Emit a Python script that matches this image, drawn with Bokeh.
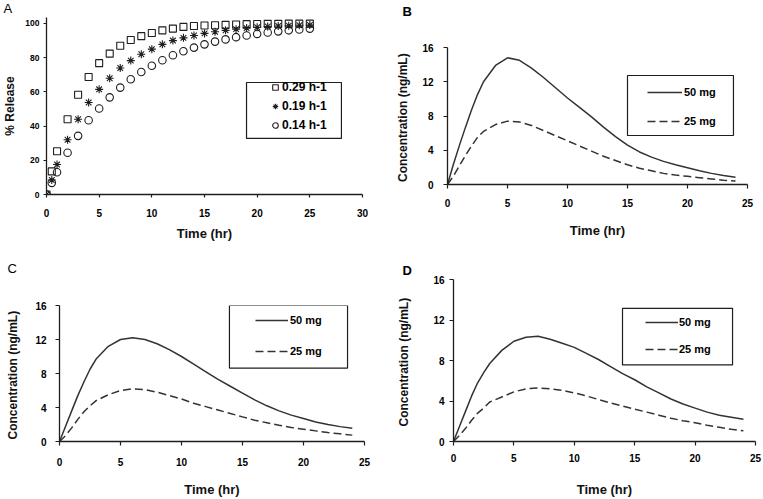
from bokeh.plotting import figure
from bokeh.layouts import column, row
from bokeh.models import Legend, LegendItem, BoxAnnotation, Range1d, FixedTicker, Title
from bokeh.embed import file_html
from bokeh.resources import INLINE

# ---------------- data ----------------
release_time = [0, 0.5, 1, 2, 3, 4, 5, 6, 7, 8, 9, 10, 11, 12, 13, 14, 15, 16, 17, 18, 19, 20, 21, 22, 23, 24, 25]
release_k029 = [0, 13.5, 25.3, 44, 58.3, 68.7, 76.8, 82.4, 87, 90.3, 92.6, 94.4, 96, 97, 98, 98.5, 98.8, 99,
                99.2, 99.4, 99.6, 99.7, 99.8, 99.8, 99.9, 99.9, 99.9]
release_k019 = [0, 8.5, 17.5, 32, 44, 53.8, 61.5, 68, 74, 78.3, 82, 85, 87.8, 90, 91.6, 93, 94.2, 95.2,
                96, 96.7, 97.3, 97.8, 98.2, 98.5, 98.7, 99, 99.1]
release_k014 = [0, 6.8, 13, 24.4, 34.3, 43.4, 50.3, 56.8, 62.5, 67.4, 71.6, 75.3, 78.5, 81.4, 83.8, 85.9,
                87.8, 89.4, 90.7, 92, 93, 93.9, 94.7, 95.4, 96, 96.5, 97]
release_labels = ["0.29 h-1", "0.19 h-1", "0.14 h-1"]

conc_time = [0, 0.5, 1, 1.5, 2, 2.5, 3, 4, 5, 6, 7, 8, 9, 10, 11, 12, 13, 14, 15, 16, 17, 18, 19, 20, 21, 22, 23, 24]
b_50mg = [0, 2.4, 4.6, 6.7, 8.7, 10.5, 12.0, 13.9, 14.8, 14.5, 13.6, 12.5, 11.3, 10.1, 9.0, 7.9, 6.7, 5.6,
          4.6, 3.8, 3.2, 2.7, 2.3, 1.95, 1.6, 1.3, 1.05, 0.85]
b_25mg = [0, 1.0, 2.2, 3.4, 4.5, 5.5, 6.2, 7.0, 7.4, 7.3, 6.9, 6.3, 5.7, 5.1, 4.5, 3.9, 3.3, 2.8, 2.3, 1.9,
          1.6, 1.3, 1.1, 0.95, 0.8, 0.65, 0.5, 0.4]
c_50mg = [0, 1.8, 3.6, 5.4, 7.0, 8.5, 9.7, 11.2, 12.0, 12.2, 12.0, 11.5, 10.8, 10.0, 9.1, 8.2, 7.3, 6.5, 5.7,
          4.9, 4.2, 3.6, 3.1, 2.7, 2.3, 2.0, 1.75, 1.55]
c_25mg = [0, 0.7, 1.6, 2.6, 3.5, 4.2, 4.8, 5.5, 6.0, 6.2, 6.1, 5.8, 5.4, 5.0, 4.5, 4.1, 3.7, 3.3, 2.9, 2.5,
          2.2, 1.9, 1.65, 1.45, 1.25, 1.05, 0.9, 0.75]
d_50mg = [0, 1.5, 3.0, 4.5, 5.8, 6.8, 7.7, 9.0, 9.9, 10.3, 10.4, 10.1, 9.7, 9.3, 8.7, 8.1, 7.4, 6.7, 6.1, 5.4,
          4.8, 4.2, 3.7, 3.3, 2.9, 2.6, 2.4, 2.2]
d_25mg = [0, 0.6, 1.3, 2.1, 2.8, 3.3, 3.9, 4.4, 4.9, 5.2, 5.3, 5.2, 5.05, 4.8, 4.5, 4.15, 3.8, 3.5, 3.2, 2.9,
          2.6, 2.3, 2.05, 1.85, 1.6, 1.4, 1.2, 1.05]
dose_labels = ["50 mg", "25 mg"]
panel_names = ["A", "B", "C", "D"]

release_xticks = [0, 5, 10, 15, 20, 25, 30]
release_yticks = [0, 20, 40, 60, 80, 100]
conc_xticks = [0, 5, 10, 15, 20, 25]
conc_yticks = [0, 4, 8, 12, 16]

FONT = "Liberation Sans"
INK = "#1e1e1e"
LINE = "#333333"


def make_fig(w, h, bl, br, bt, bb, xmax, ymax, xt, yt):
    p = figure(width=w, height=h, output_backend="svg", toolbar_location=None,
               x_range=Range1d(0, xmax), y_range=Range1d(0, ymax),
               min_border_left=bl, min_border_right=br, min_border_top=bt, min_border_bottom=bb)
    if hasattr(p, "frame_align"):
        p.frame_align = False
    p.outline_line_color = None
    p.xgrid.visible = False
    p.ygrid.visible = False
    p.background_fill_color = "white"
    p.border_fill_color = "white"
    p.xaxis.ticker = FixedTicker(ticks=xt)
    p.yaxis.ticker = FixedTicker(ticks=yt)
    for ax in (p.xaxis, p.yaxis):
        ax.axis_line_color = INK
        ax.axis_line_width = 1.3
        ax.major_tick_line_color = INK
        ax.major_tick_line_width = 1.2
        ax.major_tick_in = 0
        ax.major_tick_out = 4
        ax.minor_tick_line_color = None
        ax.major_label_text_font = FONT
        ax.major_label_text_font_style = "bold"
        ax.major_label_text_font_size = "10px"
        ax.major_label_text_color = "black"
        ax.axis_label_text_font = FONT
        ax.axis_label_text_font_style = "bold"
        ax.axis_label_text_color = "#111111"
    p.xaxis.axis_label_text_font_size = "13px"
    p.yaxis.axis_label_text_font_size = "12px"
    return p


def panel_letter(p, text, offset, bold, gap):
    # optional spacer pushes the panel letter further up, away from the frame
    if gap > 0:
        p.add_layout(Title(text=" ", text_font_size="2px", standoff=gap), "above")
    p.title.text = text
    p.title.align = "left"
    p.title.offset = offset
    p.title.standoff = 0
    p.title.vertical_align = "top"
    p.title.text_font = FONT
    p.title.text_font_size = "13px"
    p.title.text_font_style = "bold" if bold else "normal"
    p.title.text_color = "black"


def legend_box(p, l, r, b, t):
    p.add_layout(BoxAnnotation(left=l, right=r, bottom=b, top=t, fill_color=None, fill_alpha=0,
                               line_color=INK, line_width=1.2, line_alpha=1))


def conc_panel(w, h, bl, br, bt, bb, y50, y25, letter, loff, bold, gap,
               xstand, xlabstand, ystand, ylabstand, box, lvx, lvy, gw, sp, st):
    p = make_fig(w, h, bl, br, bt, bb, 25, 16, conc_xticks, conc_yticks)
    p.xaxis.axis_label = "Time (hr)"
    p.yaxis.axis_label = "Concentration  (ng/mL)"
    p.xaxis.major_label_standoff = xstand
    p.xaxis.axis_label_standoff = xlabstand
    p.yaxis.major_label_standoff = ystand
    p.yaxis.axis_label_standoff = ylabstand
    r50 = p.line(conc_time, y50, line_color=LINE, line_width=1.5)
    r25 = p.line(conc_time, y25, line_color=LINE, line_width=1.5, line_dash="8 4")
    legend_box(p, *box)
    leg = Legend(items=[LegendItem(label=dose_labels[0], renderers=[r50]),
                        LegendItem(label=dose_labels[1], renderers=[r25])],
                 location=(lvx, lvy), orientation="vertical", padding=0, margin=0, spacing=sp,
                 glyph_width=gw, glyph_height=14, label_height=14, label_standoff=st,
                 border_line_color=None, background_fill_alpha=0,
                 label_text_font=FONT, label_text_font_style="bold", label_text_font_size="11px",
                 label_text_color="black")
    p.add_layout(leg)
    panel_letter(p, letter, loff, bold, gap)
    return p


# ---------------- panel A ----------------
pA = make_fig(385, 245, 46, 23, 16, 51, 30, 103.5, release_xticks, release_yticks)
pA.xaxis.axis_label = "Time (hr)"
pA.yaxis.axis_label = "% Release"
pA.xaxis.major_tick_out = 3
pA.yaxis.major_tick_out = 3
pA.yaxis.major_label_text_font_size = "8.5px"
pA.xaxis.major_label_standoff = 11
pA.xaxis.axis_label_standoff = 6
pA.yaxis.major_label_standoff = 4
pA.yaxis.axis_label_standoff = 5
rs = pA.scatter(release_time, release_k029, marker="square", size=7, fill_color=None,
                line_color=INK, line_width=1.1)
ra = pA.scatter(release_time, release_k019, marker="asterisk", size=8, line_color=INK, line_width=1.1)
rc = pA.scatter(release_time, release_k014, marker="circle", size=7.5, fill_color=None,
                line_color=INK, line_width=1.1)
legend_box(pA, 18.99, 28.0, 32.8, 65.5)
legA = Legend(items=[LegendItem(label=release_labels[0], renderers=[rs]),
                     LegendItem(label=release_labels[1], renderers=[ra]),
                     LegendItem(label=release_labels[2], renderers=[rc])],
              location=(222, 62), orientation="vertical", padding=0, margin=0, spacing=5,
              glyph_width=14, glyph_height=14, label_height=14, label_standoff=0,
              border_line_color=None, background_fill_alpha=0,
              label_text_font=FONT, label_text_font_style="bold", label_text_font_size="12px",
              label_text_color="black")
pA.add_layout(legA)
panel_letter(pA, panel_names[0], -43, False, 0)

# ---------------- panels B, C, D ----------------
pB = conc_panel(378, 245, 62, 16, 47, 61, b_50mg, b_25mg, panel_names[1], -45, True, 23,
                10, 13, 10, 9, (15.0, 23.83, 5.72, 12.73), 200, 56, 35, 15, 2)
pC = conc_panel(385, 254, 59, 21, 60, 57, c_50mg, c_25mg, panel_names[2], -52, False, 24,
                12, 13, 9, 12, (13.93, 23.61, 8.64, 16.0), 196, 83, 33, 17, 2)
pD = conc_panel(378, 254, 68, 8, 34, 57, d_50mg, d_25mg, panel_names[3], -51, True, 0,
                8, 17, 5, 19, (13.99, 23.1, 7.56, 13.15), 192, 85, 33, 13, 1)

layout = column(row(pA, pB), row(pC, pD))

with open("out.html", "w") as f:
    f.write(file_html(layout, INLINE))
